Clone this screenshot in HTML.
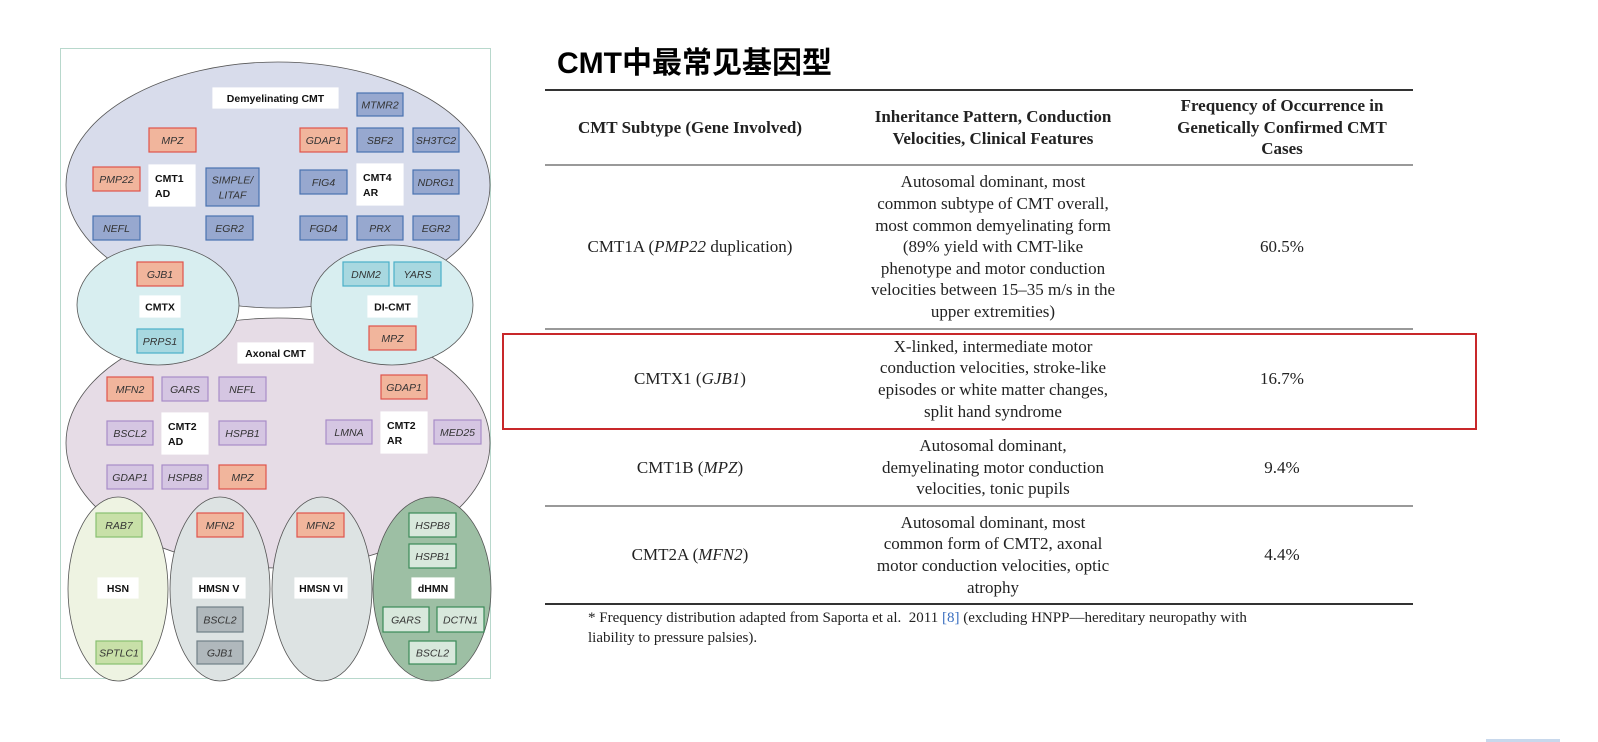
<!DOCTYPE html>
<html><head><meta charset="utf-8"><style>
body{margin:0;width:1598px;height:742px;background:#fff;position:relative;overflow:hidden;font-family:"Liberation Serif",serif}
.abs{position:absolute}
.cell{position:absolute;display:flex;align-items:center;justify-content:center;text-align:center;font-size:17px;line-height:21.6px;color:#222;white-space:nowrap}
.hdr{font-weight:bold}
.line{position:absolute;left:545px;width:868px}
svg text{font-family:"Liberation Sans",sans-serif}
</style></head><body>
<div class="abs" style="left:60px;top:48px;width:429px;height:629px;border:1.5px solid #b8d8cc"></div>
<svg class="abs" style="left:0;top:0" width="500" height="690">
<ellipse cx="278" cy="185" rx="212" ry="123" fill="#d8dceb" stroke="#555" stroke-width="0.8"/>
<ellipse cx="278" cy="443" rx="212" ry="125" fill="#e6dce6" stroke="#555" stroke-width="0.8"/>
<ellipse cx="158" cy="305" rx="81" ry="60" fill="#d8eef0" stroke="#555" stroke-width="0.8"/>
<ellipse cx="392" cy="305" rx="81" ry="60" fill="#d8eef0" stroke="#555" stroke-width="0.8"/>
<ellipse cx="118" cy="589" rx="50" ry="92" fill="#eef3e2" stroke="#555" stroke-width="0.8"/>
<ellipse cx="220" cy="589" rx="50" ry="92" fill="#dde3e3" stroke="#555" stroke-width="0.8"/>
<ellipse cx="322" cy="589" rx="50" ry="92" fill="#dde3e3" stroke="#555" stroke-width="0.8"/>
<ellipse cx="432" cy="589" rx="59" ry="92" fill="#9dbfa4" stroke="#555" stroke-width="0.8"/>
<g id="g"></g>
</svg>
<script>
const C={r:['#f1b59c','#e0534b'],b:['#97a8cf','#4a72b0'],t:['#a8d8e0','#4ab0c8'],p:['#d5c6e2','#a88cc8'],g:['#c8e0a8','#88c070'],s:['#b0b8bc','#708088'],d:['#d8e8dc','#3a8a58'],w:['#fff','#fff']};
const boxes=[
['w',213,88,125,20,'Demyelinating CMT'],['b',357,93,46,23,'MTMR2'],
['r',149,128,47,24,'MPZ'],['r',300,128,47,24,'GDAP1'],['b',357,128,46,24,'SBF2'],['b',413,128,46,24,'SH3TC2'],
['r',93,167,47,24,'PMP22'],['w',149,165,46,41,'CMT1|AD'],['b',206,168,53,38,'SIMPLE/|LITAF'],['b',300,170,47,24,'FIG4'],['w',357,164,46,41,'CMT4|AR'],['b',413,170,46,24,'NDRG1'],
['b',93,216,47,24,'NEFL'],['b',206,216,47,24,'EGR2'],['b',300,216,47,24,'FGD4'],['b',357,216,46,24,'PRX'],['b',413,216,46,24,'EGR2'],
['r',137,262,46,24,'GJB1'],['w',140,296,40,21,'CMTX'],['t',137,329,46,24,'PRPS1'],
['t',343,262,46,24,'DNM2'],['t',394,262,47,24,'YARS'],['w',368,296,49,21,'DI-CMT'],['r',369,326,47,24,'MPZ'],
['w',238,343,75,20,'Axonal CMT'],
['r',107,377,46,24,'MFN2'],['p',162,377,46,24,'GARS'],['p',219,377,47,24,'NEFL'],['r',381,375,46,24,'GDAP1'],
['p',107,421,46,24,'BSCL2'],['w',162,413,46,41,'CMT2|AD'],['p',219,421,47,24,'HSPB1'],['p',326,420,46,24,'LMNA'],['w',381,412,46,41,'CMT2|AR'],['p',434,420,47,24,'MED25'],
['p',107,465,46,24,'GDAP1'],['p',162,465,46,24,'HSPB8'],['r',219,465,47,24,'MPZ'],
['g',96,513,46,24,'RAB7'],['w',98,578,40,20,'HSN'],['g',96,641,46,23,'SPTLC1'],
['r',197,513,46,24,'MFN2'],['w',193,578,52,20,'HMSN V'],['s',197,607,46,25,'BSCL2'],['s',197,641,46,23,'GJB1'],
['r',297,513,47,24,'MFN2'],['w',295,578,52,20,'HMSN VI'],
['d',409,513,47,24,'HSPB8'],['d',409,544,47,24,'HSPB1'],['w',412,578,42,20,'dHMN'],['d',383,607,46,25,'GARS'],['d',437,607,47,25,'DCTN1'],['d',409,641,47,23,'BSCL2']];
const g=document.getElementById('g'),ns='http://www.w3.org/2000/svg';
boxes.forEach(b=>{
 const [c,x,y,w,h,t]=b;
 const r=document.createElementNS(ns,'rect');
 r.setAttribute('x',x);r.setAttribute('y',y);r.setAttribute('width',w);r.setAttribute('height',h);
 r.setAttribute('fill',C[c][0]);r.setAttribute('stroke',C[c][1]);r.setAttribute('stroke-width',1.2);
 
 
 g.appendChild(r);
 const lines=t.split('|');
 lines.forEach((s,i)=>{
  const tx=document.createElementNS(ns,'text');
  const lbl=c==='w';
  tx.setAttribute('x',lbl&&lines.length>1?x+6:x+w/2);
  tx.setAttribute('text-anchor',lbl&&lines.length>1?'start':'middle');
  tx.setAttribute('y',y+h/2+4+(i-(lines.length-1)/2)*15);
  tx.setAttribute('font-size',lbl?10.5:10.5);
  tx.setAttribute('font-weight',lbl?'bold':'normal');
  tx.setAttribute('font-style',lbl?'normal':'italic');
  tx.setAttribute('fill',lbl?'#111':'#333');
  
  
  tx.textContent=s;g.appendChild(tx);
 });
});
</script>

<div class="abs" style="left:557px;top:38px;font:bold 30px 'Liberation Sans','Noto Sans CJK SC',sans-serif;color:#000">CMT中最常见基因型</div>

<div class="line" style="top:89px;height:2px;background:#333"></div>
<div class="line" style="top:164px;height:1.5px;background:#999"></div>
<div class="line" style="top:328px;height:1.5px;background:#999"></div>
<div class="line" style="top:428px;height:1.5px;background:#999"></div>
<div class="line" style="top:505px;height:1.5px;background:#999"></div>
<div class="line" style="top:603px;height:2px;background:#333"></div>

<div class="cell hdr" style="left:545px;width:290px;top:91px;height:73px">CMT Subtype (Gene Involved)</div>
<div class="cell hdr" style="left:835px;width:316px;top:91px;height:73px">Inheritance Pattern, Conduction<br>Velocities, Clinical Features</div>
<div class="cell hdr" style="left:1151px;width:262px;top:91px;height:73px">Frequency of Occurrence in<br>Genetically Confirmed CMT<br>Cases</div>

<div class="cell" style="left:545px;width:290px;top:166px;height:162px">CMT1A (<i>PMP22</i>&nbsp;duplication)</div>
<div class="cell" style="left:835px;width:316px;top:166px;height:162px">Autosomal dominant, most<br>common subtype of CMT overall,<br>most common demyelinating form<br>(89% yield with CMT-like<br>phenotype and motor conduction<br>velocities between 15–35 m/s in the<br>upper extremities)</div>
<div class="cell" style="left:1151px;width:262px;top:166px;height:162px">60.5%</div>

<div class="cell" style="left:545px;width:290px;top:330px;height:98px">CMTX1 (<i>GJB1</i>)</div>
<div class="cell" style="left:835px;width:316px;top:330px;height:98px">X-linked, intermediate motor<br>conduction velocities, stroke-like<br>episodes or white matter changes,<br>split hand syndrome</div>
<div class="cell" style="left:1151px;width:262px;top:330px;height:98px">16.7%</div>
<div class="abs" style="left:502px;top:333px;width:971px;height:93px;border:2px solid #c8282a"></div>

<div class="cell" style="left:545px;width:290px;top:430px;height:75px">CMT1B (<i>MPZ</i>)</div>
<div class="cell" style="left:835px;width:316px;top:430px;height:75px">Autosomal dominant,<br>demyelinating motor conduction<br>velocities, tonic pupils</div>
<div class="cell" style="left:1151px;width:262px;top:430px;height:75px">9.4%</div>

<div class="cell" style="left:545px;width:290px;top:507px;height:96px">CMT2A (<i>MFN2</i>)</div>
<div class="cell" style="left:835px;width:316px;top:507px;height:96px">Autosomal dominant, most<br>common form of CMT2, axonal<br>motor conduction velocities, optic<br>atrophy</div>
<div class="cell" style="left:1151px;width:262px;top:507px;height:96px">4.4%</div>

<div class="abs" style="left:588px;top:608px;font-size:15px;line-height:20px;color:#222;white-space:nowrap">* Frequency distribution adapted from Saporta et al.&nbsp; 2011 <span style="color:#3a6fc0">[8]</span> (excluding HNPP—hereditary neuropathy with<br>liability to pressure palsies).</div>
<div class="abs" style="left:1486px;top:739px;width:74px;height:3px;background:#c8d8ec"></div>
</body></html>
